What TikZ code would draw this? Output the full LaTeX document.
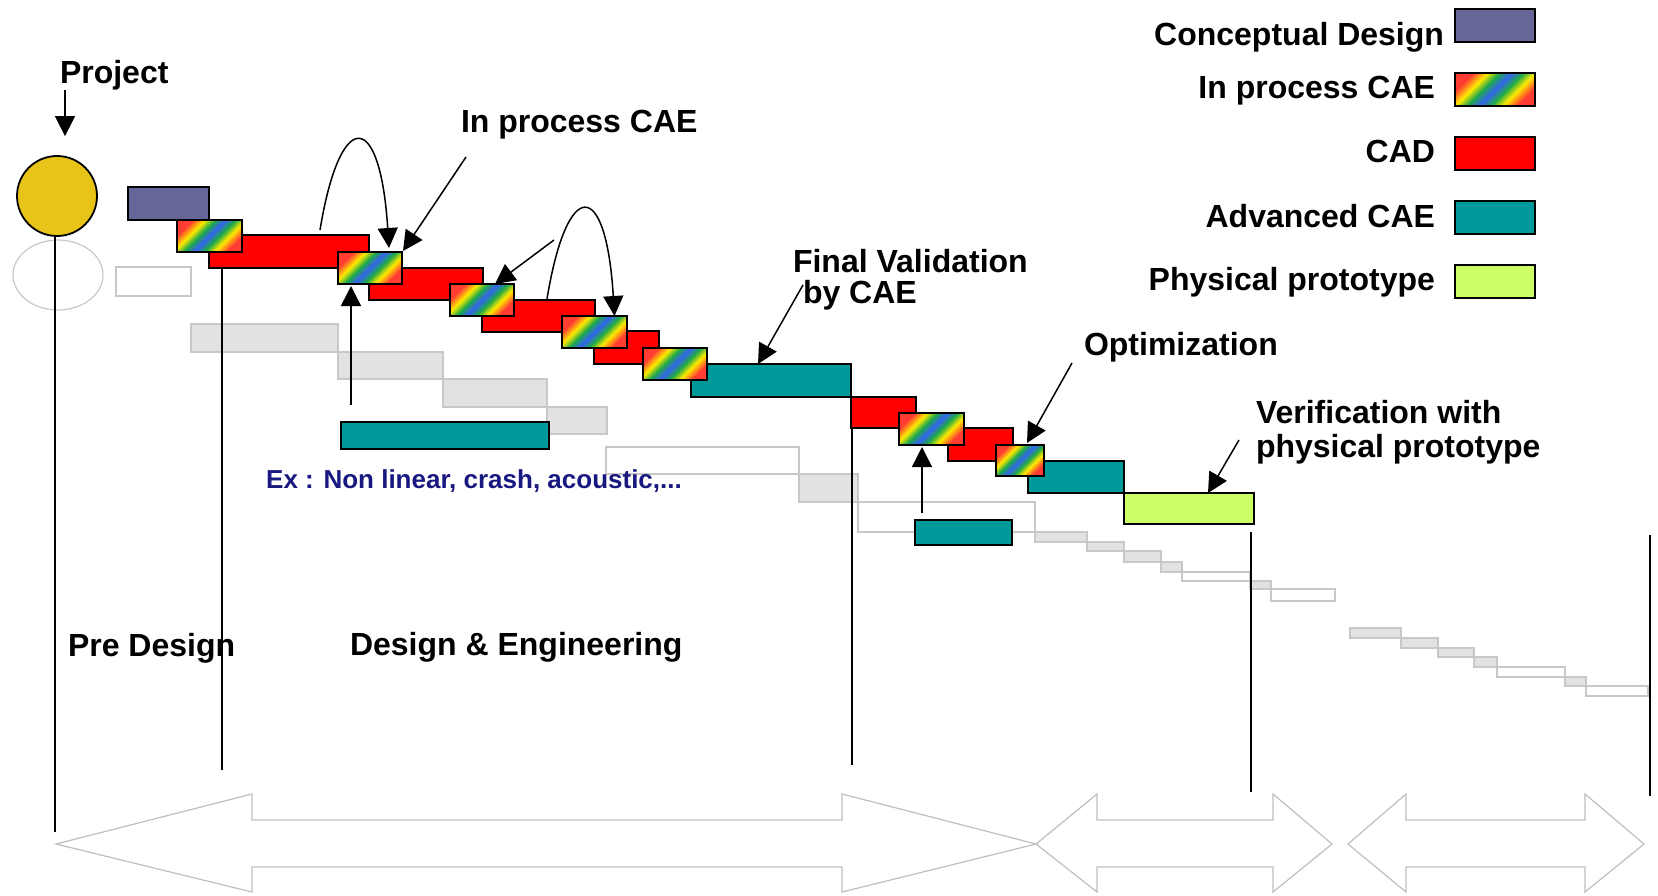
\documentclass[tikz,border=0pt]{standalone}
\usepackage{fontspec}
\setmainfont{Liberation Sans}
\usetikzlibrary{arrows.meta,calc}
\definecolor{cdpurple}{RGB}{102,102,153}
\definecolor{cadred}{RGB}{255,0,0}
\definecolor{advteal}{RGB}{0,153,153}
\definecolor{protogreen}{RGB}{204,255,102}
\definecolor{projyellow}{RGB}{232,196,24}
\definecolor{exblue}{RGB}{24,24,128}
\definecolor{ghostfill}{RGB}{226,226,226}
\definecolor{ghostline}{RGB}{200,200,200}
\definecolor{rbred}{RGB}{255,60,50}
\definecolor{rbyellow}{RGB}{255,235,0}
\definecolor{rbgreen}{RGB}{30,170,70}
\definecolor{rbblue}{RGB}{50,100,240}
\pgfdeclareverticalshading{rainbowcae}{100bp}{color(0bp)=(rbred); color(26bp)=(rbred); color(35bp)=(rbyellow); color(42.5bp)=(rbgreen); color(50bp)=(rbblue); color(57.5bp)=(rbgreen); color(65bp)=(rbyellow); color(74bp)=(rbred); color(100bp)=(rbred)}
\newcommand{\gbar}[6]{\node[#6, anchor=north west, minimum width={#4-#2}, minimum height={#5-#3}] (#1) at (#2,#3) {};}
\tikzset{
  bar/.style={rectangle, draw=black, line width=1.8pt, inner sep=0pt, outer sep=0pt},
  cdbar/.style={bar, fill=cdpurple},
  cadbar/.style={bar, fill=cadred},
  advbar/.style={bar, fill=advteal},
  protobar/.style={bar, fill=protogreen},
  caebar/.style={bar, shade, shading=rainbowcae, shading angle=45},
  ghostfilled/.style={draw=ghostline, fill=ghostfill, line width=1.2pt},
  ghostbox/.style={draw=ghostline, line width=1.2pt},
  ghostarrow/.style={draw=ghostline!95!black, line width=1.2pt, line join=miter},
  lbl/.style={font=\fontsize{32}{36}\selectfont\bfseries, inner sep=0pt, outer sep=0pt},
  exlbl/.style={font=\fontsize{26}{30}\selectfont\bfseries, text=exblue, inner sep=0pt},
  conn/.style={line width=1.5pt},
  arr/.style={line width=1.5pt, -{Triangle[length=20pt,width=20pt]}}
}
\begin{document}
\begin{tikzpicture}[x=1pt,y=-1pt]
\useasboundingbox (0,0) rectangle (1658,895);
% ghost (background) plan
\draw[ghostbox] (58,275) ellipse [x radius=45, y radius=35];
\draw[ghostbox] (116,267) rectangle (191,296);
\draw[ghostfilled] (191,324) rectangle (338,352);
\draw[ghostfilled] (338,352) rectangle (443,379);
\draw[ghostfilled] (443,379) rectangle (547,407);
\draw[ghostfilled] (547,407) rectangle (607,434);
\draw[ghostbox] (606,447) rectangle (799,474);
\draw[ghostfilled] (799,474) rectangle (858,502);
\draw[ghostbox] (858,502) rectangle (1035,532);
\draw[ghostfilled] (1035,532) rectangle (1087,542);
\draw[ghostfilled] (1087,542) rectangle (1124,551);
\draw[ghostfilled] (1124,551) rectangle (1161,562);
\draw[ghostfilled] (1161,562) rectangle (1182,572);
\draw[ghostbox] (1182,572) rectangle (1250,581);
\draw[ghostfilled] (1250,581) rectangle (1271,589);
\draw[ghostbox] (1271,589) rectangle (1335,601);
\draw[ghostfilled] (1350,628) rectangle (1401,638);
\draw[ghostfilled] (1401,638) rectangle (1438,648);
\draw[ghostfilled] (1438,648) rectangle (1474,657);
\draw[ghostfilled] (1474,657) rectangle (1497,667);
\draw[ghostbox] (1497,667) rectangle (1565,677);
\draw[ghostfilled] (1565,677) rectangle (1586,686);
\draw[ghostbox] (1586,686) rectangle (1648,696);
% phase arrows at the bottom
\draw[ghostarrow] (56,844) -- (252,794) -- (252,820) -- (842,820) -- (842,794) -- (1036,844) -- (842,892) -- (842,867) -- (252,867) -- (252,892) -- cycle;
\draw[ghostarrow] (1036,844) -- (1097,794) -- (1097,820) -- (1273,820) -- (1273,794) -- (1332,844) -- (1273,892) -- (1273,867) -- (1097,867) -- (1097,892) -- cycle;
\draw[ghostarrow] (1348,844) -- (1406,794) -- (1406,820) -- (1585,820) -- (1585,794) -- (1644,844) -- (1585,892) -- (1585,867) -- (1406,867) -- (1406,892) -- cycle;
% project circle
\node[circle, draw=black, line width=1.8pt, fill=projyellow, minimum size=80pt, inner sep=0pt] (circ) at (57,196) {};
% bars
\gbar{cd}{128}{187}{209}{220}{cdbar}
\gbar{c1}{209}{235}{369}{268}{cadbar}
\gbar{c2}{369}{268}{483}{300}{cadbar}
\gbar{c3}{482}{300}{595}{332}{cadbar}
\gbar{c4}{594}{331}{659}{364}{cadbar}
\gbar{t1}{691}{364}{851}{397}{advbar}
\gbar{c5}{851}{397}{916}{428}{cadbar}
\gbar{c6}{948}{428}{1013}{461}{cadbar}
\gbar{t2}{1028}{461}{1124}{493}{advbar}
\gbar{pp}{1124}{493}{1254}{524}{protobar}
\gbar{ta}{341}{422}{549}{449}{advbar}
\gbar{tb}{915}{520}{1012}{545}{advbar}
\gbar{r1}{177}{220}{242}{252}{caebar}
\gbar{r2}{338}{252}{402}{284}{caebar}
\gbar{r3}{450}{284}{514}{316}{caebar}
\gbar{r4}{562}{316}{627}{348}{caebar}
\gbar{r5}{643}{348}{707}{380}{caebar}
\gbar{r6}{899}{413}{964}{445}{caebar}
\gbar{r7}{996}{445}{1044}{476}{caebar}
% phase separators
\coordinate (v1e) at (55,832);
\coordinate (v2e) at (222,770);
\coordinate (v3e) at (852,765);
\coordinate (v4s) at (1251,532);
\coordinate (v4e) at (1251,792);
\coordinate (v5s) at (1650,535);
\coordinate (v5e) at (1650,796);
\draw[conn] ([xshift=-2pt]circ.south) -- (v1e);
\draw[conn] ([xshift=13pt]c1.south west) -- (v2e);
\draw[conn] ([xshift=1pt]c5.south west) -- (v3e);
\draw[conn] (v4s) -- (v4e);
\draw[conn] (v5s) -- (v5e);
% texts
\node[lbl, anchor=base west] (proj) at (60,83) {Project};
\node[lbl, anchor=base west] (ipc) at (461,132) {In process CAE};
\node[lbl, anchor=base west] (fv1) at (793,272) {Final Validation};
\node[lbl, anchor=base west] (fv2) at (803,303) {by CAE};
\node[lbl, anchor=base west] (opt) at (1084,355) {Optimization};
\node[lbl, anchor=base west] (ver1) at (1256,423) {Verification with};
\node[lbl, anchor=base west] (ver2) at (1256,457) {physical prototype};
\node[exlbl, anchor=base west] (ex) at (266,488) {Ex : Non linear, crash, acoustic,...};
\node[lbl, anchor=base west] (pre) at (68,656) {Pre Design};
\node[lbl, anchor=base west] (dae) at (350,655) {Design \& Engineering};
% connectors
\coordinate (k1) at (320,230);
\coordinate (k2) at (547,299);
\coordinate (a1) at (466,157);
\coordinate (a2) at (554,240);
\coordinate (u1) at (351,405);
\coordinate (u2) at (922,513);
\coordinate (a3) at (803,285);
\coordinate (a4) at (1072,363);
\coordinate (a5) at (1239,440);
\draw[arr] ([xshift=8pt]circ.north |- proj.south) -- ([xshift=8pt,yshift=19pt]circ.north);
\draw[arr] (k1) .. controls (340,108) and (380,108) .. ([xshift=19pt,yshift=4pt]r2.north);
\draw[arr] (a1) -- ([xshift=1pt,yshift=1pt]r2.north east);
\draw[arr] (a2) -- ([xshift=13pt]r3.north);
\draw[arr] (k2) .. controls (567,177) and (606,177) .. ([xshift=20pt]r4.north);
\draw[arr] (u1) -- ([xshift=-19pt,yshift=-2pt]r2.south);
\draw[arr] (u2) -- ([xshift=-9.5pt,yshift=-2pt]r6.south);
\draw[arr] (a3) -- ([xshift=-13pt]t1.north);
\draw[arr] (a4) -- ([xshift=7pt,yshift=2pt]r7.north);
\draw[arr] (a5) -- ([xshift=19pt]pp.north);
% legend
\gbar{lg1}{1455}{9}{1535}{42}{cdbar}
\gbar{lg2}{1455}{73}{1535}{106}{caebar}
\gbar{lg3}{1455}{137}{1535}{170}{cadbar}
\gbar{lg4}{1455}{201}{1535}{234}{advbar}
\gbar{lg5}{1455}{265}{1535}{298}{protobar}
\node[lbl, anchor=base east] (lt1) at (1444,45) {Conceptual Design};
\node[lbl, anchor=base east] (lt2) at (1435,98) {In process CAE};
\node[lbl, anchor=base east] (lt3) at (1435,162) {CAD};
\node[lbl, anchor=base east] (lt4) at (1435,227) {Advanced CAE};
\node[lbl, anchor=base east] (lt5) at (1435,290) {Physical prototype};
\end{tikzpicture}
\end{document}
